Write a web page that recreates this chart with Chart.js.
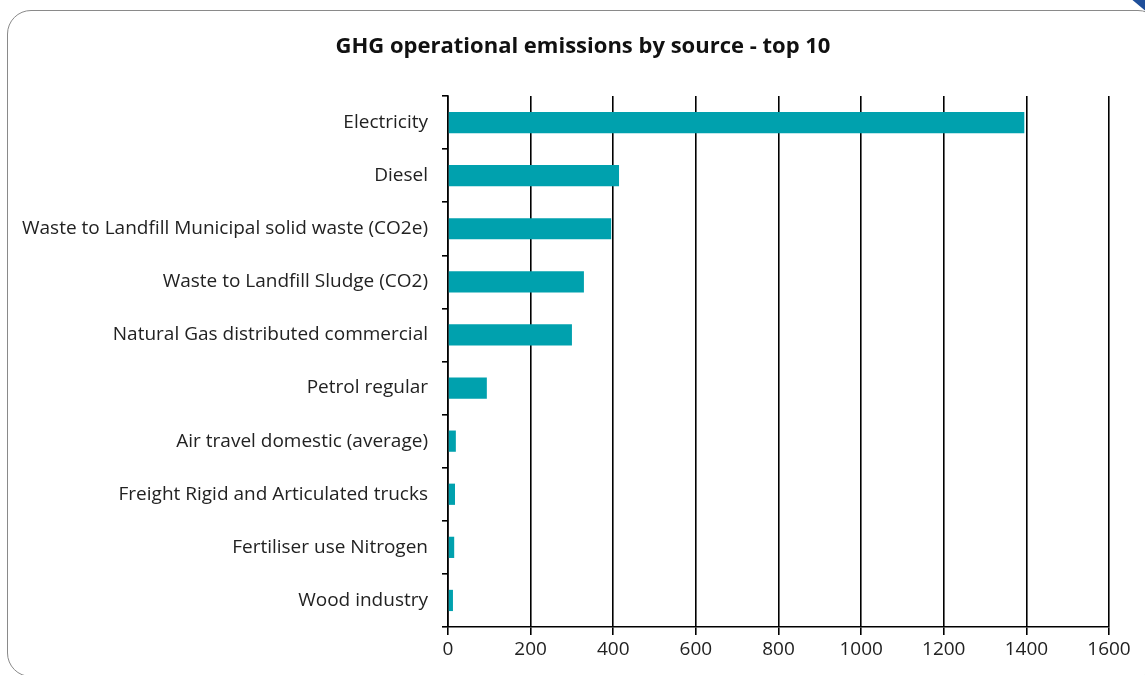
<!DOCTYPE html>
<html>
<head>
<meta charset="utf-8">
<script src="https://cdn.jsdelivr.net/npm/chart.js@4/dist/chart.umd.min.js"></script>
<style>
  html, body { margin: 0; padding: 0; background: #fff; }
  #wrap { position: relative; width: 1145px; height: 675px; overflow: hidden; }
  #frame {
    position: absolute; left: 7px; top: 10px; width: 1155px; height: 667px;
    border: 1.5px solid #8a8a8a; border-radius: 24px; box-sizing: border-box;
  }
  #corner {
    position: absolute; right: -14px; top: -14px; width: 26px; height: 22px;
    background: #1f4f9a; transform: rotate(40deg); border-radius: 4px;
  }
  canvas { position: absolute; left: 0; top: 0; }
</style>
</head>
<body>
<div id="wrap">
  <div id="frame"></div>
  <div id="corner"></div>
  <canvas id="chart" width="1145" height="675"></canvas>
</div>
<script>
// ── Data ─────────────────────────────────────────
const chartTitle = 'GHG operational emissions by source - top 10';
const categories = [
  'Electricity',
  'Diesel',
  'Waste to Landfill Municipal solid waste (CO2e)',
  'Waste to Landfill Sludge (CO2)',
  'Natural Gas distributed commercial',
  'Petrol regular',
  'Air travel domestic (average)',
  'Freight Rigid and Articulated trucks',
  'Fertiliser use Nitrogen',
  'Wood industry',
];
const emissions = [1395, 414, 395, 329, 300, 94, 19, 17, 15, 12];
const xTicks = [0, 200, 400, 600, 800, 1000, 1200, 1400, 1600];

const FONT = '"Open Sans", "Noto Sans", "Liberation Sans", sans-serif';
const TEXT = '#222';

// Title sits off-centre from the canvas (centred on the framed box), so draw it by hand
const titlePlugin = {
  id: 'boxTitle',
  afterDraw(chart) {
    const c = chart.ctx;
    c.save();
    c.font = `bold 22px ${FONT}`;
    c.fillStyle = '#111';
    c.textAlign = 'center';
    c.textBaseline = 'middle';
    c.fillText(chartTitle, 583, 47);
    c.restore();
  },
};

const ctx = document.getElementById('chart').getContext('2d');
new Chart(ctx, {
  type: 'bar',
  data: {
    labels: categories,
    datasets: [{
      data: emissions,
      backgroundColor: '#00a1ae',
      borderWidth: 0,
      categoryPercentage: 1,
      barPercentage: 0.4,
    }],
  },
  options: {
    indexAxis: 'y',
    responsive: false,
    animation: false,
    layout: { padding: { left: 8, right: 36, top: 96, bottom: 0 } },
    plugins: {
      legend: { display: false },
      tooltip: { enabled: false },
      title: { display: false },
    },
    scales: {
      x: {
        min: 0,
        max: 1600,
        afterBuildTicks: (s) => { s.ticks = xTicks.map((v) => ({ value: v })); },
        afterFit: (s) => { s.height = 48; },
        grid: { color: '#000', lineWidth: 1.6, tickLength: 8, drawTicks: true },
        border: { color: '#000', width: 1.6 },
        ticks: {
          color: TEXT,
          font: { family: FONT, size: 19 },
          padding: 3,
          callback: (v) => String(v),
        },
      },
      y: {
        afterFit: (s) => { s.width = 448 - 8; },
        grid: { drawOnChartArea: false, drawTicks: true, tickLength: 6, offset: true, color: '#000', lineWidth: 1.6 },
        border: { color: '#000', width: 1.6 },
        ticks: { color: TEXT, font: { family: FONT, size: 19 }, padding: 14 },
      },
    },
  },
  plugins: [titlePlugin],
});
</script>
</body>
</html>
